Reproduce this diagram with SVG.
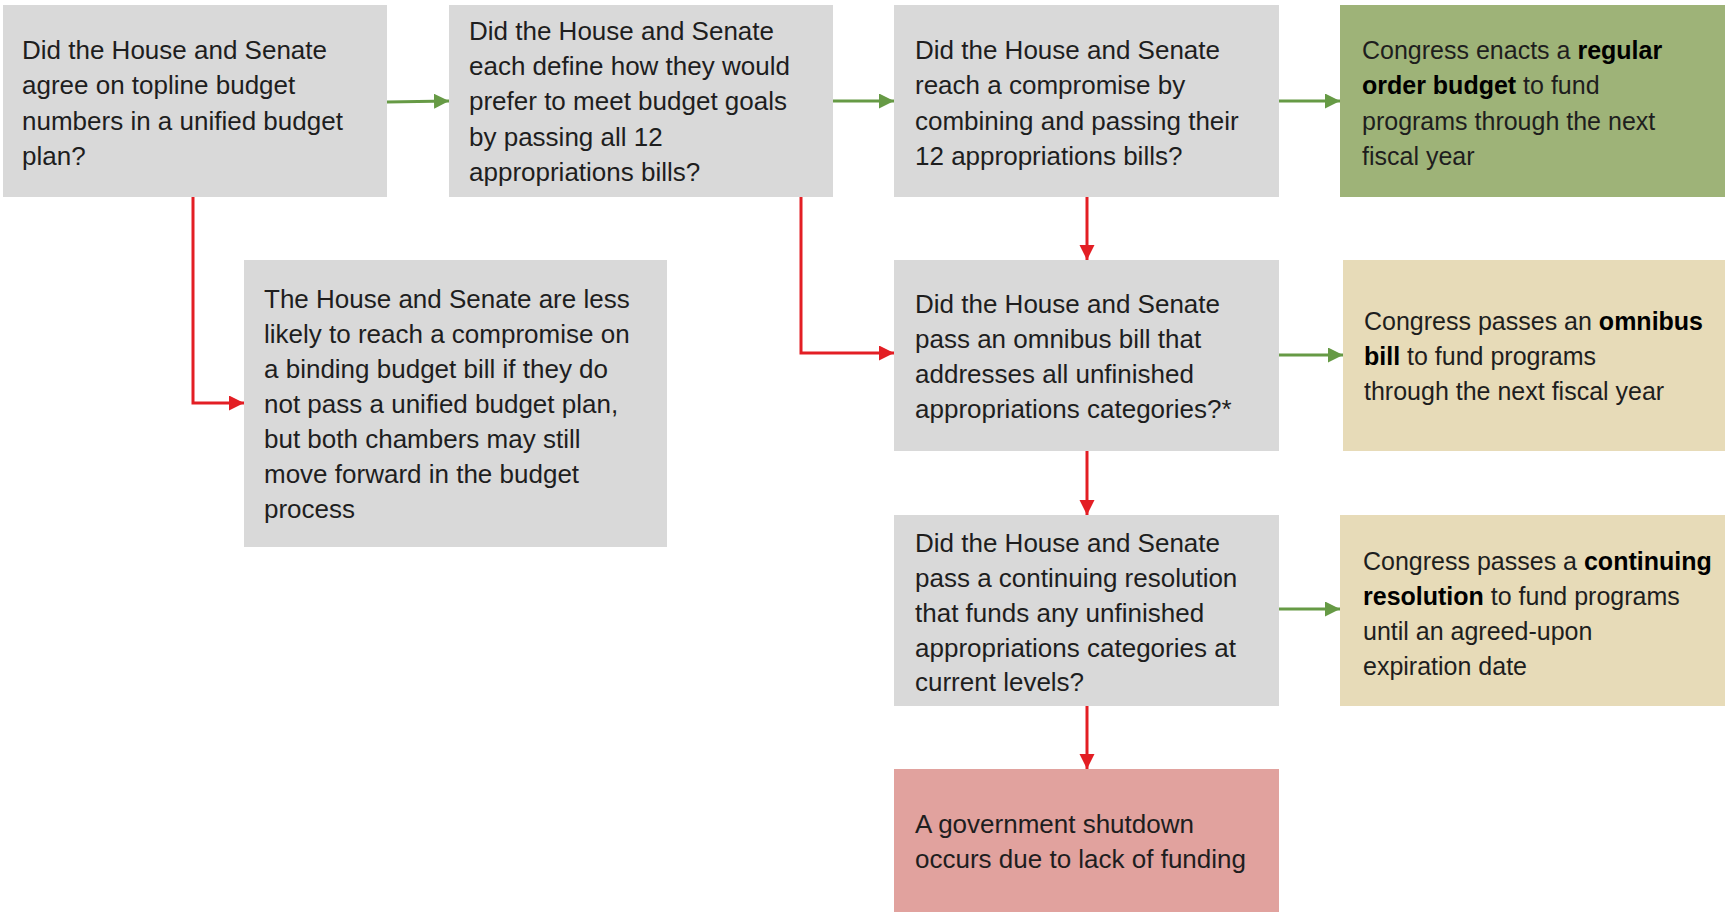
<svg xmlns="http://www.w3.org/2000/svg" width="1725" height="912" viewBox="0 0 1725 912">
<style>
.t{font-family:"Liberation Sans",Arial,sans-serif;font-size:26px;fill:#1e1e1e}
.r{font-size:25px}
.b{font-weight:bold;fill:#000}
.gray{fill:#d9d9d9}
.lg{fill:none;stroke:#669a45;stroke-width:3}
.lr{fill:none;stroke:#e31e24;stroke-width:3}
</style>
<defs>
<marker id="ag" markerUnits="userSpaceOnUse" markerWidth="16" markerHeight="16" refX="15" refY="7.5" orient="auto"><path d="M0,0 L15,7.5 L0,15 z" fill="#669a45"/></marker>
<marker id="ar" markerUnits="userSpaceOnUse" markerWidth="16" markerHeight="16" refX="15" refY="7.5" orient="auto"><path d="M0,0 L15,7.5 L0,15 z" fill="#e31e24"/></marker>
</defs>
<g id="n1"><rect class="gray" x="3" y="5" width="384" height="192"/>
<text class="t"><tspan x="22" y="59">Did the House and Senate</tspan><tspan x="22" y="94">agree on topline budget</tspan><tspan x="22" y="130">numbers in a unified budget</tspan><tspan x="22" y="165">plan?</tspan></text></g>
<g id="n2"><rect class="gray" x="449" y="5" width="384" height="192"/>
<text class="t"><tspan x="469" y="40">Did the House and Senate</tspan><tspan x="469" y="75">each define how they would</tspan><tspan x="469" y="110">prefer to meet budget goals</tspan><tspan x="469" y="146">by passing all 12</tspan><tspan x="469" y="181">appropriations bills?</tspan></text></g>
<g id="n3"><rect class="gray" x="894" y="5" width="385" height="192"/>
<text class="t"><tspan x="915" y="59">Did the House and Senate</tspan><tspan x="915" y="94">reach a compromise by</tspan><tspan x="915" y="130">combining and passing their</tspan><tspan x="915" y="165">12 appropriations bills?</tspan></text></g>
<g id="n4"><rect fill="#9eb378" x="1340" y="5" width="385" height="192"/>
<text class="t r"><tspan x="1362" y="59">Congress enacts a </tspan><tspan class="b">regular</tspan><tspan x="1362" y="94" class="b">order budget</tspan><tspan> to fund</tspan><tspan x="1362" y="130">programs through the next</tspan><tspan x="1362" y="165">fiscal year</tspan></text></g>
<g id="n5"><rect class="gray" x="244" y="260" width="423" height="287"/>
<text class="t"><tspan x="264" y="308">The House and Senate are less</tspan><tspan x="264" y="343">likely to reach a compromise on</tspan><tspan x="264" y="378">a binding budget bill if they do</tspan><tspan x="264" y="413">not pass a unified budget plan,</tspan><tspan x="264" y="448">but both chambers may still</tspan><tspan x="264" y="483">move forward in the budget</tspan><tspan x="264" y="518">process</tspan></text></g>
<g id="n6"><rect class="gray" x="894" y="260" width="385" height="191"/>
<text class="t"><tspan x="915" y="313">Did the House and Senate</tspan><tspan x="915" y="348">pass an omnibus bill that</tspan><tspan x="915" y="383">addresses all unfinished</tspan><tspan x="915" y="418">appropriations categories?*</tspan></text></g>
<g id="n7"><rect fill="#e7dbb8" x="1343" y="260" width="382" height="191"/>
<text class="t r"><tspan x="1364" y="330">Congress passes an </tspan><tspan class="b">omnibus</tspan><tspan x="1364" y="365" class="b">bill</tspan><tspan> to fund programs</tspan><tspan x="1364" y="400">through the next fiscal year</tspan></text></g>
<g id="n8"><rect class="gray" x="894" y="515" width="385" height="191"/>
<text class="t"><tspan x="915" y="552">Did the House and Senate</tspan><tspan x="915" y="587">pass a continuing resolution</tspan><tspan x="915" y="622">that funds any unfinished</tspan><tspan x="915" y="657">appropriations categories at</tspan><tspan x="915" y="691">current levels?</tspan></text></g>
<g id="n9"><rect fill="#e7dbb8" x="1340" y="515" width="385" height="191"/>
<text class="t r"><tspan x="1363" y="570">Congress passes a </tspan><tspan class="b">continuing</tspan><tspan x="1363" y="605" class="b">resolution</tspan><tspan> to fund programs</tspan><tspan x="1363" y="640">until an agreed-upon</tspan><tspan x="1363" y="675">expiration date</tspan></text></g>
<g id="n10"><rect fill="#e1a29e" x="894" y="769" width="385" height="143"/>
<text class="t"><tspan x="915" y="833">A government shutdown</tspan><tspan x="915" y="868">occurs due to lack of funding</tspan></text></g>
<g id="connectors">
<path class="lg" d="M387,102 L449,101" marker-end="url(#ag)"/>
<path class="lg" d="M833,101 L894,101" marker-end="url(#ag)"/>
<path class="lg" d="M1279,101 L1340,101" marker-end="url(#ag)"/>
<path class="lg" d="M1279,355 L1343,355" marker-end="url(#ag)"/>
<path class="lg" d="M1279,609 L1340,609" marker-end="url(#ag)"/>
<path class="lr" d="M193,197 L193,403 L244,403" marker-end="url(#ar)"/>
<path class="lr" d="M801,197 L801,353 L894,353" marker-end="url(#ar)"/>
<path class="lr" d="M1087,197 L1087,260" marker-end="url(#ar)"/>
<path class="lr" d="M1087,451 L1087,515" marker-end="url(#ar)"/>
<path class="lr" d="M1087,706 L1087,769" marker-end="url(#ar)"/>
</g>
</svg>
